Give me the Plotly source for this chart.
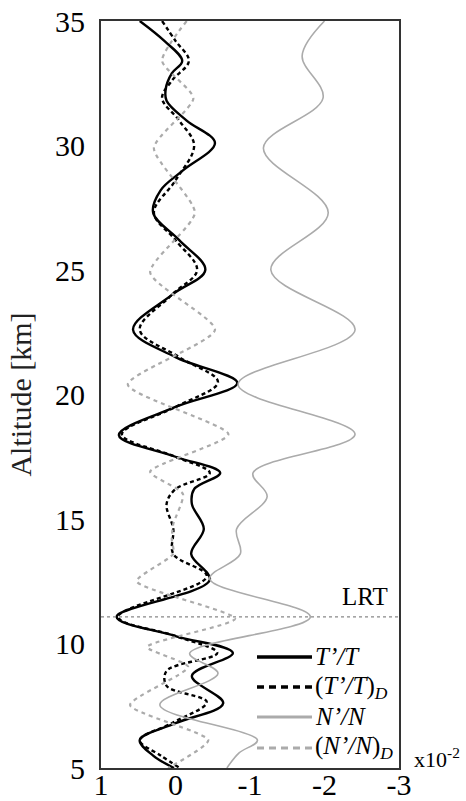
import plotly.graph_objects as go

# ---- data (x in units of 1e-2, altitude in km) ----
alt_T = [35.0, 34.2, 33.4, 32.9, 32.3, 31.8, 31.0, 30.1, 29.0, 28.2, 27.3, 26.2, 25.0, 24.0, 22.6, 21.5, 20.46, 19.5,
         18.37, 17.5, 16.85, 16.2, 15.6, 14.6, 13.6, 12.55, 11.07, 10.3, 9.62, 8.7, 7.6, 6.8, 6.12, 5.5, 5.0]
val_T = [0.48, 0.15, -0.09, 0.05, 0.13, 0.12, -0.15, -0.53, -0.10, 0.20, 0.30, -0.05, -0.40, 0.05, 0.57, 0.0, -0.83, 0.0,
         0.76, 0.0, -0.60, -0.25, -0.22, -0.38, -0.21, -0.46, 0.79, 0.0, -0.77, -0.22, -0.64, 0.0, 0.48, 0.30, 0.02]

alt_TD = [35.0, 34.2, 33.4, 32.6, 31.9, 31.0, 30.0, 28.6, 27.3, 26.2, 25.0, 24.0, 22.6, 21.5, 20.5, 19.5, 18.4, 17.5,
          16.85, 16.2, 15.6, 14.6, 13.6, 12.7, 11.07, 10.3, 9.62, 8.9, 8.3, 7.65, 6.8, 6.12, 5.5, 5.0]
val_TD = [0.18, 0.0, -0.18, 0.05, 0.18, -0.05, -0.25, 0.0, 0.29, 0.0, -0.29, 0.05, 0.48, -0.05, -0.57, 0.0, 0.72, 0.0,
          -0.46, 0.0, 0.12, 0.03, 0.03, -0.42, 0.77, 0.0, -0.56, 0.12, 0.12, -0.42, 0.05, 0.48, 0.20, -0.06]

alt_N = [35.0, 33.6, 31.9, 29.9, 27.3, 25.0, 22.6, 20.4, 18.4, 16.85, 15.9, 14.6, 13.6, 12.6, 11.07, 9.6, 8.8,
         7.53, 6.12, 5.6, 5.0]
val_N = [-2.0, -1.70, -1.98, -1.18, -2.05, -1.28, -2.41, -0.84, -2.41, -1.04, -1.23, -0.82, -0.87, -0.46, -1.81,
         -0.19, -0.57, 0.21, -1.10, -0.85, -0.69]

alt_ND = [35.0, 33.4, 31.9, 29.9, 27.3, 24.9, 22.6, 20.4, 18.4, 16.9, 16.0, 14.8, 14.2, 13.6, 12.5, 11.0, 9.86,
          9.06, 7.53, 6.12, 5.0]
val_ND = [-0.15, 0.18, -0.24, 0.29, -0.26, 0.34, -0.53, 0.64, -0.71, 0.34, -0.10, 0.03, 0.05, 0.03, 0.52, -0.80,
          0.38, -0.17, 0.61, -0.44, 0.10]

series_names = ["<i>T’/T</i>", "(<i>T’/T</i>)<i><sub>D</sub></i>", "<i>N’/N</i>", "(<i>N’/N</i>)<i><sub>D</sub></i>"]

lrt_alt = 11.07
x_ticks = [1, 0, -1, -2, -3]
y_ticks = [5, 10, 15, 20, 25, 30, 35]

serif = "Liberation Serif, Times New Roman, serif"
gray = "#ababab"

styles = [
    dict(color="black", width=2.4, dash="solid"),
    dict(color="black", width=2.4, dash="4px,3px"),
    dict(color=gray, width=1.6, dash="solid"),
    dict(color=gray, width=2.2, dash="4px,4px"),
]
legend_styles = [
    dict(color="black", width=3.5, dash="solid"),
    dict(color="black", width=3.5, dash="7px,5px"),
    dict(color=gray, width=3.0, dash="solid"),
    dict(color=gray, width=3.0, dash="7px,5px"),
]

fig = go.Figure()
for xs, ys, nm, st, sm in zip([val_T, val_TD, val_N, val_ND], [alt_T, alt_TD, alt_N, alt_ND],
                              series_names, styles, [1.0, 1.0, 1.0, 0.6]):
    fig.add_trace(go.Scatter(x=xs, y=ys, mode="lines", name=nm, showlegend=False, hoverinfo="skip",
                             line=dict(shape="spline", smoothing=sm, **st)))

# LRT line and label
fig.add_shape(type="line", xref="paper", x0=0, x1=1, yref="y", y0=lrt_alt, y1=lrt_alt,
              line=dict(color="#888888", width=1.2, dash="dot"))
fig.add_annotation(text="LRT", xref="paper", x=0.97, xanchor="right", yref="y", y=lrt_alt + 0.2,
                   yanchor="bottom", showarrow=False, font=dict(family=serif, size=25, color="black"))
fig.add_annotation(text="x10<sup>-2</sup>", xref="paper", x=1.045, xanchor="left", yref="paper", y=0.014,
                   yanchor="middle", showarrow=False, font=dict(family=serif, size=22, color="black"))

# manual legend
leg_rows = [0.1486, 0.1084, 0.0683, 0.0268]
for nm, st, yy in zip(series_names, legend_styles, leg_rows):
    fig.add_shape(type="line", xref="paper", yref="paper", x0=0.5235, x1=0.708, y0=yy, y1=yy, line=st)
    fig.add_annotation(text=nm, xref="paper", yref="paper", x=0.713, y=yy, xanchor="left", yanchor="middle",
                       showarrow=False, font=dict(family=serif, size=25, color="black"))

fig.update_layout(
    width=466, height=801,
    margin=dict(l=101, r=67, t=21, b=33),
    paper_bgcolor="white", plot_bgcolor="white",
    showlegend=False,
    xaxis=dict(range=[1, -3], tickvals=x_ticks, ticktext=[str(v) for v in x_ticks], showgrid=False,
               zeroline=False, showline=True, mirror=True, linecolor="#333333", linewidth=1.8, ticks="",
               automargin=False, ticklabelstandoff=-11, tickfont=dict(family=serif, size=30, color="black")),
    yaxis=dict(range=[5, 35], tickvals=y_ticks, showgrid=False, zeroline=False, showline=True, mirror=True,
               linecolor="#333333", linewidth=1.8, ticks="", ticklabelstandoff=8, automargin=False,
               tickfont=dict(family=serif, size=30, color="black"),
               title=dict(text="Altitude [km]", font=dict(family=serif, size=30, color="#222222"))),
)

fig.write_html("out.html", config={"displayModeBar": False},
               post_script="document.body.style.margin='0';document.body.style.overflow='hidden';")
